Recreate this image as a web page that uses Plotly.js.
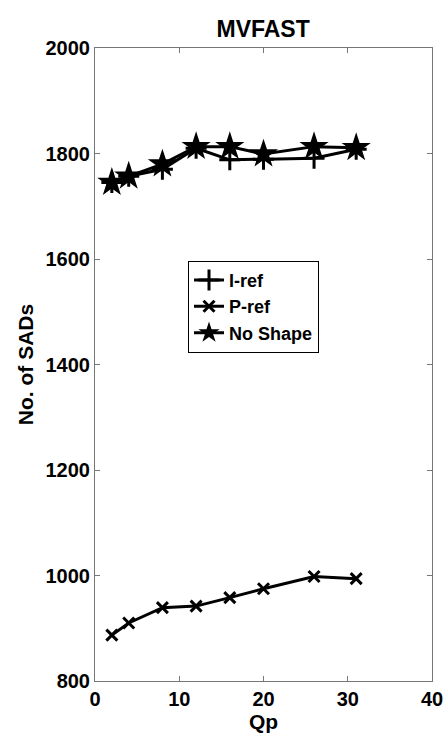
<!DOCTYPE html>
<html><head><meta charset="utf-8">
<script src="https://cdn.plot.ly/plotly-3.0.1.min.js"></script>
<style>html,body{margin:0;padding:0;background:#fff;}#chart{width:446px;height:734px;}</style>
</head><body><div id="chart"></div>
<script>
const qp = [2, 4, 8, 12, 16, 20, 26, 31];
const iRef = [1745, 1757, 1770, 1810, 1788, 1789, 1791, 1808];
const pRef = [887, 910, 939, 942, 958, 975, 998, 994];
const noShape = [1745, 1757, 1780, 1813, 1813, 1799, 1813, 1811];
const yTicks = [800, 1000, 1200, 1400, 1600, 1800, 2000];
const xTicks = [0, 10, 20, 30, 40];

const lineStyle = {color: '#000', width: 3};
const traces = [
  {x: qp, y: iRef, name: 'I-ref', mode: 'lines+markers', line: lineStyle,
   marker: {symbol: 'cross-thin', size: 15, color: '#000', line: {color: '#000', width: 3}}},
  {x: qp, y: pRef, name: 'P-ref', mode: 'lines+markers', line: lineStyle,
   marker: {symbol: 'x-thin', size: 11, color: '#000', line: {color: '#000', width: 3}}},
  {x: qp, y: noShape, name: 'No Shape', mode: 'lines+markers', line: lineStyle,
   marker: {symbol: 'star', size: 22, color: '#000', line: {color: '#000', width: 0}}}
];
const fam = 'Liberation Sans, Arial, sans-serif';
const b = s => '<b>' + s + '</b>';
const layout = {
  width: 446, height: 734,
  margin: {l: 95, r: 14, t: 48, b: 53},
  paper_bgcolor: '#fff', plot_bgcolor: '#fff',
  font: {family: fam, size: 20, color: '#000'},
  title: {text: b('MVFAST'), font: {family: fam, size: 23, color: '#000'}, x: 0.59, xanchor: 'center', y: 0.96, yanchor: 'middle'},
  xaxis: {range: [0, 40], tickvals: xTicks, ticktext: xTicks.map(v => b(v)),
    ticks: 'inside', ticklen: 5, tickcolor: '#777', showline: true, linecolor: '#777', linewidth: 1, mirror: 'ticks',
    showgrid: false, zeroline: false, tickfont: {family: fam, size: 20, color: '#000'},
    title: {text: b('Qp'), font: {family: fam, size: 21, color: '#000'}, standoff: 0}},
  yaxis: {range: [800, 2000], tickvals: yTicks, ticktext: yTicks.map(v => b(v)),
    ticks: 'inside', ticklen: 5, tickcolor: '#777', showline: true, linecolor: '#777', linewidth: 1, mirror: 'ticks',
    showgrid: false, zeroline: false, tickfont: {family: fam, size: 20, color: '#000'},
    title: {text: b('No. of SADs'), font: {family: fam, size: 21, color: '#000'}, standoff: 6}},
  legend: {x: 0.276, y: 0.664, xanchor: 'left', yanchor: 'top', bgcolor: '#fff', bordercolor: '#000', borderwidth: 1,
    font: {family: fam, size: 18, color: '#000'}, tracegroupgap: 0},
  showlegend: true
};
traces.forEach(t => t.name = b(t.name));
Plotly.newPlot('chart', traces, layout, {displayModeBar: false, staticPlot: true});
</script></body></html>
